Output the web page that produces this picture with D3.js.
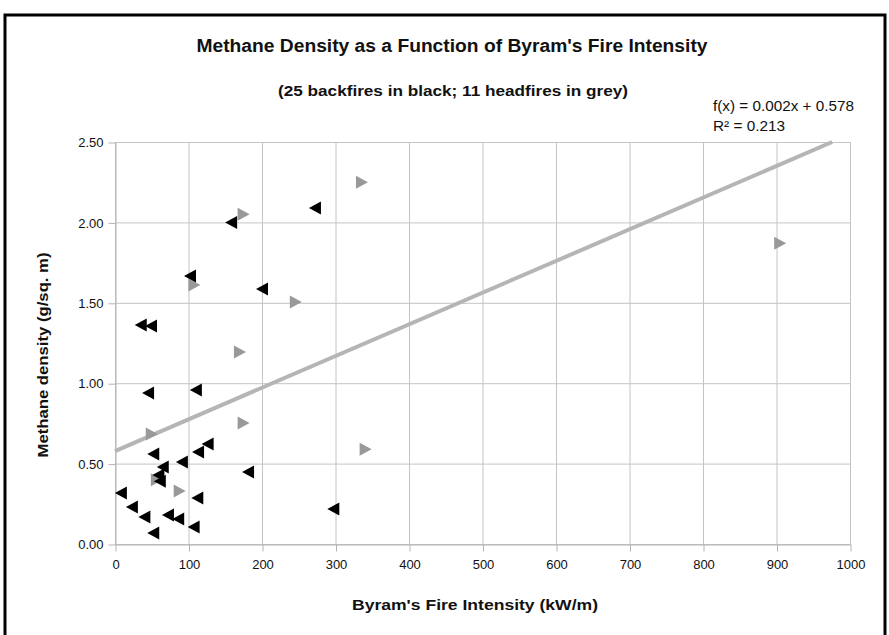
<!DOCTYPE html>
<html>
<head>
  <meta charset="utf-8">
  <title>Methane Density vs Byram's Fire Intensity</title>
  <style>
  body { margin: 0; background: #fff; }
  text { font-family: "Liberation Sans", Arial, sans-serif; fill: #111; }
  .grid line { stroke: #c4c4c4; stroke-width: 1; }
  .axis path, .axis line { stroke: #b3b3b3; }
  </style>
</head>
<body>
  <div id="chart"></div>
  <script src="https://d3js.org/d3.v7.min.js"></script>
  <script>
    // backfires (black) and headfires (grey): [intensity kW/m, methane g/sq. m]
    var backfires = [
      [8, 0.317], [23, 0.23], [40, 0.168], [52, 0.068], [72, 0.18],
      [86, 0.155], [107, 0.106], [112, 0.286], [61, 0.39], [59, 0.429],
      [65, 0.479], [91, 0.51], [52, 0.56], [113, 0.572], [126, 0.622],
      [181, 0.448], [297, 0.218], [45, 0.939], [110, 0.958], [35, 1.362],
      [49, 1.356], [102, 1.667], [200, 1.586], [158, 2.0], [272, 2.09]
    ];
    var headfires = [
      [57, 0.40], [88, 0.33], [50, 0.684], [175, 0.752], [341, 0.59],
      [170, 1.194], [246, 1.505], [108, 1.61], [175, 2.05], [336, 2.25],
      [905, 1.87]
    ];
    var xTicks = [0, 100, 200, 300, 400, 500, 600, 700, 800, 900, 1000];
    var yTicks = [0, 0.5, 1, 1.5, 2, 2.5];
    var trendSlope = 0.00197;
    var trendIntercept = 0.578;

    var width = 889, height = 635;
    var svg = d3.select("#chart").append("svg")
        .attr("width", width)
        .attr("height", height);

    // outer frame (partly cut off at right and bottom)
    svg.append("rect")
        .attr("x", 5).attr("y", 15)
        .attr("width", 880).attr("height", 640)
        .attr("fill", "none")
        .attr("stroke", "#000")
        .attr("stroke-width", 3);

    var x = d3.scaleLinear().domain([0, 1000]).range([115, 850]);
    var y = d3.scaleLinear().domain([0, 2.5]).range([544, 142]);

    // gridlines
    svg.append("g").attr("class", "grid")
      .selectAll("line").data(xTicks).enter().append("line")
        .attr("x1", function(d) { return x(d) + 0.5; })
        .attr("x2", function(d) { return x(d) + 0.5; })
        .attr("y1", y(2.5)).attr("y2", y(0));
    svg.append("g").attr("class", "grid")
      .selectAll("line").data(yTicks).enter().append("line")
        .attr("y1", function(d) { return y(d) + 0.5; })
        .attr("y2", function(d) { return y(d) + 0.5; })
        .attr("x1", x(0)).attr("x2", x(1000));

    var xAxis = svg.append("g")
        .attr("class", "axis")
        .attr("transform", "translate(0.5," + (y(0) + 0.5) + ")")
        .call(d3.axisBottom(x).tickValues(xTicks).tickFormat(d3.format("d")).tickSize(7).tickSizeOuter(0));
    xAxis.selectAll("text").attr("dy", "1.1em").style("font-size", "13px").attr("fill", "#111");

    var yAxis = svg.append("g")
        .attr("class", "axis")
        .attr("transform", "translate(" + (x(0) + 0.5) + ",0.5)")
        .call(d3.axisLeft(y).tickValues(yTicks).tickFormat(d3.format(".2f")).tickSize(7).tickSizeOuter(0));
    yAxis.selectAll("text").attr("x", -12).style("font-size", "13px").attr("fill", "#111");

    // linear trendline, clipped to the plot area
    var xEnd = Math.min(1000, (2.5 - trendIntercept) / trendSlope);
    svg.append("line")
        .attr("x1", x(0)).attr("y1", y(trendIntercept))
        .attr("x2", x(xEnd)).attr("y2", y(trendIntercept + trendSlope * xEnd))
        .attr("stroke", "#b5b5b5")
        .attr("stroke-width", 4);

    // triangle markers
    var tw = 12, th = 13;
    function leftTri(d) {
      var cx = x(d[0]), cy = y(d[1]);
      return "M" + (cx - tw / 2) + "," + cy + "L" + (cx + tw / 2) + "," + (cy - th / 2) +
             "L" + (cx + tw / 2) + "," + (cy + th / 2) + "Z";
    }
    function rightTri(d) {
      var cx = x(d[0]), cy = y(d[1]);
      return "M" + (cx + tw / 2) + "," + cy + "L" + (cx - tw / 2) + "," + (cy - th / 2) +
             "L" + (cx - tw / 2) + "," + (cy + th / 2) + "Z";
    }
    svg.append("g").selectAll("path").data(headfires).enter().append("path")
        .attr("d", rightTri).attr("fill", "#999999");
    svg.append("g").selectAll("path").data(backfires).enter().append("path")
        .attr("d", leftTri).attr("fill", "#000");

    // titles
    svg.append("text")
        .attr("x", 452).attr("y", 52)
        .attr("text-anchor", "middle")
        .attr("font-weight", "bold")
        .attr("textLength", 511).attr("lengthAdjust", "spacingAndGlyphs")
        .style("font-size", "18px")
        .text("Methane Density as a Function of Byram's Fire Intensity");
    svg.append("text")
        .attr("x", 453).attr("y", 96)
        .attr("text-anchor", "middle")
        .attr("font-weight", "bold")
        .attr("textLength", 350).attr("lengthAdjust", "spacingAndGlyphs")
        .style("font-size", "15px")
        .text("(25 backfires in black; 11 headfires in grey)");

    svg.append("text")
        .attr("x", 713).attr("y", 111)
        .attr("textLength", 141).attr("lengthAdjust", "spacingAndGlyphs")
        .style("font-size", "14px")
        .text("f(x) = 0.002x + 0.578");
    svg.append("text")
        .attr("x", 713).attr("y", 131)
        .attr("textLength", 72).attr("lengthAdjust", "spacingAndGlyphs")
        .style("font-size", "14px")
        .text("R² = 0.213");

    svg.append("text")
        .attr("x", 475).attr("y", 610)
        .attr("text-anchor", "middle")
        .attr("font-weight", "bold")
        .attr("textLength", 246).attr("lengthAdjust", "spacingAndGlyphs")
        .style("font-size", "15px")
        .text("Byram's Fire Intensity (kW/m)");
    svg.append("text")
        .attr("transform", "translate(48,355) rotate(-90)")
        .attr("text-anchor", "middle")
        .attr("font-weight", "bold")
        .attr("textLength", 205).attr("lengthAdjust", "spacingAndGlyphs")
        .style("font-size", "15px")
        .text("Methane density (g/sq. m)");
  </script>
</body>
</html>
